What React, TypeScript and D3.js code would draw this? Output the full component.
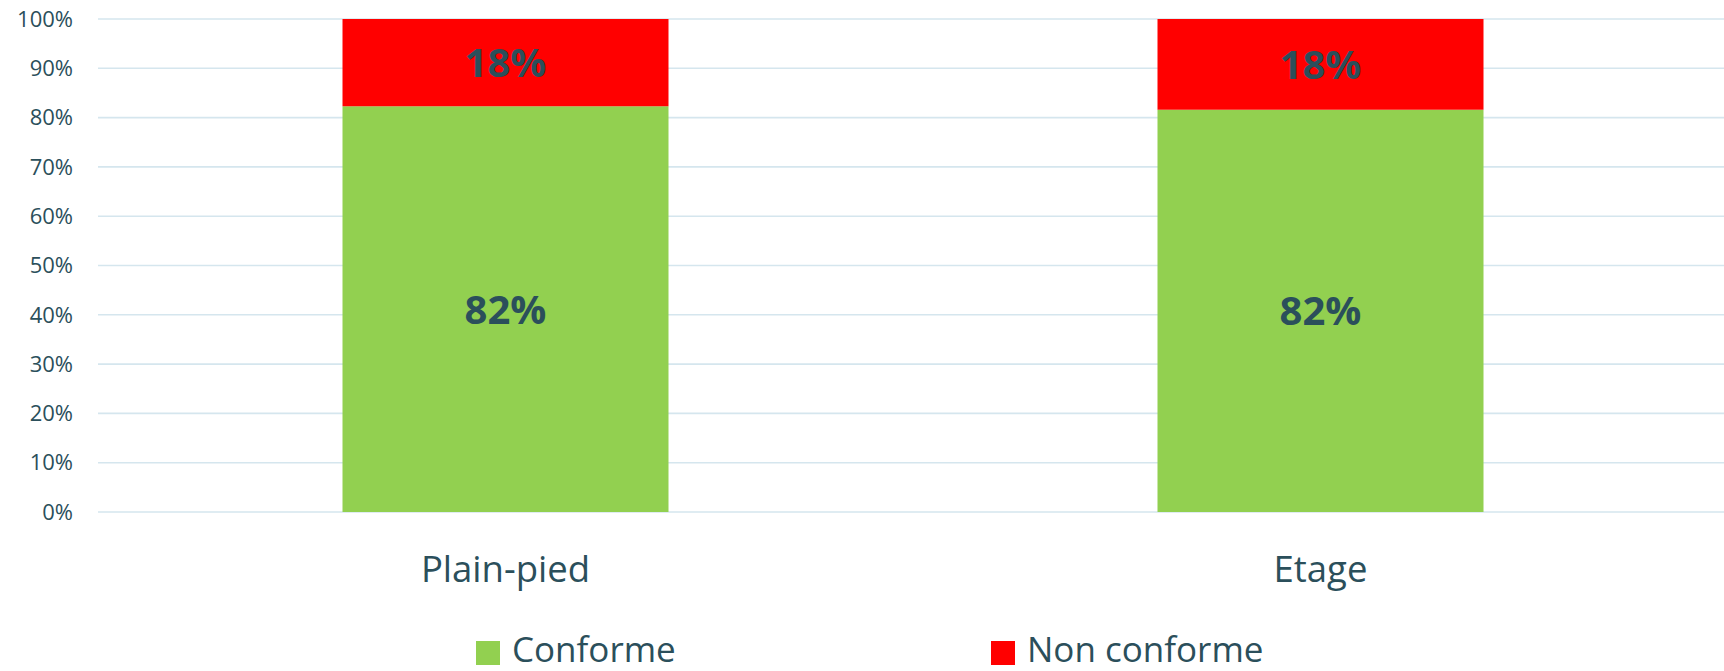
import React from "react";
import * as d3 from "d3";

const categories = ["Plain-pied", "Etage"];
const conforme = [82.3, 81.6];
const nonConforme = [17.7, 18.4];
const labelsConforme = ["82%", "82%"];
const labelsNon = ["18%", "18%"];
const yTicks = [0, 10, 20, 30, 40, 50, 60, 70, 80, 90, 100];
const seriesNames = ["Conforme", "Non conforme"];
const seriesColors = ["#92D050", "#FF0000"];

const W = 1724;
const H = 671;
const TEXT = "#2B4F5B";
const GRID = "#D5E6EE";
const FONT = "'Open Sans', sans-serif";

export default function App() {
  const plotLeft = 98;
  const plotRight = 1728;
  const y = d3.scaleLinear().domain([0, 100]).range([512, 19]);
  const x = d3.scalePoint<string>().domain(categories).range([plotLeft, plotRight]).padding(0.5);
  const barW = x.step() * 0.4;

  const stack = categories.map((c, i) => ({
    cat: c,
    segs: [
      { y0: 0, y1: conforme[i], color: seriesColors[0], label: labelsConforme[i] },
      { y0: conforme[i], y1: conforme[i] + nonConforme[i], color: seriesColors[1], label: labelsNon[i] },
    ],
  }));

  const legendX = [476, 991];

  return (
    <svg width={W} height={H} style={{ position: "absolute", left: 0, top: 0, background: "#fff" }} fontFamily={FONT}>
      {yTicks.map((t) => (
        <g key={t}>
          <line x1={plotLeft} x2={W} y1={y(t)} y2={y(t)} stroke={GRID} strokeWidth={1.6} />
          <text x={73} y={y(t)} dy="0.35em" textAnchor="end" fontSize={22} fill={TEXT}>
            {t}%
          </text>
        </g>
      ))}
      {stack.map((s) => (
        <g key={s.cat}>
          {s.segs.map((seg, j) => (
            <g key={j}>
              <rect
                x={(x(s.cat) as number) - barW / 2}
                width={barW}
                y={y(seg.y1)}
                height={y(seg.y0) - y(seg.y1)}
                fill={seg.color}
              />
              <text
                x={x(s.cat) as number}
                y={(y(seg.y0) + y(seg.y1)) / 2}
                dy="0.36em"
                textAnchor="middle"
                fontSize={40}
                fontWeight="bold"
                fill={TEXT}
              >
                {seg.label}
              </text>
            </g>
          ))}
          <text x={x(s.cat) as number} y={582} textAnchor="middle" fontSize={36.5} fill={TEXT}>
            {s.cat}
          </text>
        </g>
      ))}
      {seriesNames.map((n, i) => (
        <g key={n}>
          <rect x={legendX[i]} y={641} width={24} height={24} fill={seriesColors[i]} />
          <text x={legendX[i] + 36} y={662} fontSize={35} fill={TEXT}>
            {n}
          </text>
        </g>
      ))}
    </svg>
  );
}
